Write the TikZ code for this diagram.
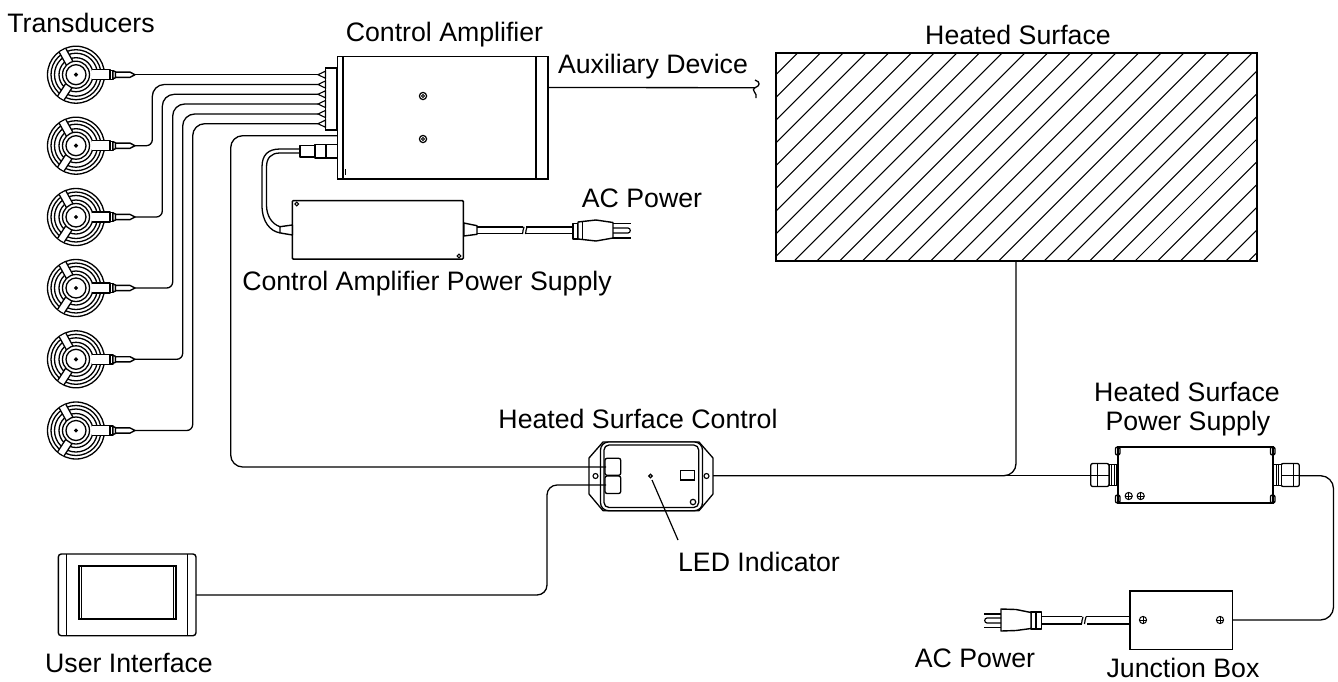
\documentclass[tikz,border=0pt]{standalone}
\usepackage{fontspec}
\setmainfont{Liberation Sans}
\usetikzlibrary{calc}
\tikzset{
  x=1pt,y=-1pt,
  lbl/.style={inner sep=0pt,font=\fontsize{26.7}{31}\selectfont,align=center},
  lblb/.style={lbl,anchor=base},
  wire/.style={line width=1.3pt,line join=round},
  part/.style={line width=1.4pt,draw=black,fill=white,line join=round},
  boxnode/.style={draw=black,fill=white,line width=1.7pt,rectangle,inner sep=0pt,outer sep=0pt},
  ring/.style={line width=1.3pt,draw=black},
  pics/transducer/.style={code={
    \draw[ring,fill=white] (0,0) circle (28.5);
    \draw[ring] (0,0) circle (25);
    \draw[ring] (0,0) circle (21.5);
    \draw[ring] (0,0) circle (17);
    \foreach \a in {123,-119}{
      \begin{scope}[rotate=-\a]
      \fill[white] (13,-3.8) rectangle (27.5,3.8);
      \draw[ring] (13,-3.8) -- (27.8,-3.8);
      \draw[ring] (13,3.8) -- (27.8,3.8);
      \end{scope}
    }
    \draw[ring,fill=white] (0,0) circle (13.5);
    \draw[ring] (0,0) circle (10);
    \draw[ring,fill=black] (0,0) circle (1.3);
    \draw[part] (16,-5) -- (34,-5) -- (34,5) -- (16,5);
    \draw[part] (34,-4.5) rectangle (37,4.5);
    \draw[part] (37,-4) -- (39.5,-3) -- (39.5,3) -- (37,4) -- cycle;
    \draw[part] (39.5,-2.6) -- (54,-2.6) -- (59,0) -- (54,2.6) -- (39.5,2.6) -- cycle;
  }},
  pics/screw/.style={code={
    \draw[line width=1pt,fill=white] (0,0) circle (3.6);
    \draw[line width=.8pt] (-3.2,0) -- (3.2,0) (0,-3.2) -- (0,3.2);
  }},
  pics/ampscrew/.style={code={
    \draw[line width=1.2pt,fill=white] (0,0) circle (3.6);
    \draw[line width=1pt] (0,0) circle (1.5);
  }},
  pics/cablebreak/.style={code={
    \draw[line width=1.2pt] (0,-3.6) .. controls (-2,-1.5) and (0,1.5) .. (-1.5,3.6);
  }},
}
\begin{document}
\begin{tikzpicture}
\useasboundingbox (0,0) rectangle (1338,681);

% ---- heated surface
\node[boxnode,minimum width=481.3pt,minimum height=208pt,anchor=north west] (hs) at (776,53) {};
\begin{scope}
  \clip (776,53) rectangle (1257.3,261);
  \foreach \k in {-1,...,30}{
    \draw[line width=1.05pt] ({850.7+\k*22.72-53},53) -- ({850.7+\k*22.72-261},261);
  }
\end{scope}
\draw[line width=1.7pt] (hs.north west) rectangle (hs.south east);

% ---- control amplifier
\node[boxnode,minimum width=210.5pt,minimum height=122.5pt,anchor=north west] (amp) at (337.5,56.5) {};
\draw[line width=1.7pt] (342.8,56.5) -- (342.8,179);
\draw[line width=1.7pt] (535.7,56.5) -- (535.7,179);
\draw[line width=.9pt] (345.5,169) -- (345.5,175);
\pic at (423,96) {ampscrew};
\pic at (423,139) {ampscrew};
\node[boxnode,line width=1.4pt,minimum width=11.5pt,minimum height=62pt,anchor=north west] (block) at (325.5,68) {};

% ---- pins
\foreach \n/\y in {1/74.7,2/84.5,3/94.3,4/104,5/114,6/123.7}{
  \coordinate (pin\n) at (318,\y);
  \draw[line width=1.1pt,fill=white] (pin\n) -- (325.5,{\y-3.6}) -- (325.5,{\y+3.6}) -- cycle;
}

% ---- transducers
\foreach \n/\y in {1/74.7,2/145.7,3/217,4/288,5/359.3,6/430.5}{
  \coordinate (t\n) at (76,\y);
  \pic at (t\n) {transducer};
  \coordinate (te\n) at (135,\y);
}
\coordinate (v2) at (152.3,84.5);
\coordinate (v3) at (162.3,94.3);
\coordinate (v4) at (172.7,104);
\coordinate (v5) at (182.7,114);
\coordinate (v6) at (192.7,123.7);
\draw[wire] (te1) -- (pin1);
\foreach \n in {2,...,6}{
  \draw[wire,rounded corners=6pt] (te\n) -- (te\n -| v\n) [rounded corners=12pt] -- (v\n) -- (pin\n);
}

% ---- heated surface control
\coordinate (hscL) at (606,467);
\coordinate (hscL2) at (606,485);
\draw[part,line width=1.3pt] (603,442) -- (589,458) -- (589,494) -- (603,510.7) -- (699,510.7) -- (713,494) -- (713,458) -- (699,442) -- cycle;
\draw[part,line width=1.3pt,rounded corners=8pt] (600.5,442) rectangle (702.5,510.7);
\draw[part,line width=1.3pt,rounded corners=5pt] (604,445) rectangle (698.7,507.5);
\node[draw,line width=1.1pt,circle,minimum size=5pt,inner sep=0pt] (hscs1) at (595.5,476) {};
\node[draw,line width=1.1pt,circle,minimum size=5pt,inner sep=0pt] (hscs2) at (706.5,476) {};
\draw[part,line width=1.3pt,rounded corners=2pt] (605,458.3) rectangle (620.7,475.3);
\draw[part,line width=1.3pt,rounded corners=2pt] (605,476) rectangle (620.7,493.5);
\node[draw,line width=1.2pt,circle,minimum size=3.4pt,inner sep=0pt] (led) at (650.5,476) {};
\draw[line width=1.2pt] (680.8,470.7) rectangle (694.7,480);
\draw[line width=1.2pt] (693,502) circle (2.7);
\coordinate (ledend) at (678,540);
\draw[line width=1.2pt] (led) ++(1.5,4) -- (ledend);

% ---- user interface
\node[boxnode,line width=1.4pt,rounded corners=3pt,minimum width=137.7pt,minimum height=81.7pt,anchor=north west] (ui) at (58.3,554) {};
\draw[line width=1.3pt] (66.7,554) -- (66.7,635.7) (187.3,554) -- (187.3,635.7);
\draw[line width=1.6pt] (79,565.7) rectangle (175.7,619);
\draw[line width=1pt] (81,565.7) -- (81,619) (173.9,565.7) -- (173.9,619);

% ---- wires to HSC
\coordinate (ampout) at (337,135.7);
\coordinate (c1) at (230.7,135.7);
\coordinate (c2) at (230.7,467);
\draw[wire,rounded corners=12pt] (ampout) -- (c1) -- (c2) -- (hscL);
\coordinate (d1) at (547,485);
\coordinate (d2) at (547,595);
\draw[wire,rounded corners=10pt] (hscL2) -- (d1) -- (d2) -- (ui.east |- d2);

% ---- aux
\coordinate (auxS) at (548,87.5);
\coordinate (auxE) at (755,87.7);
\draw[wire] (auxS) -- (auxE);
\draw[wire] (755,80) .. controls (761,82) and (760,86) .. (auxE) .. controls (750,90) and (758,93) .. (756,98);

% ---- amplifier power supply
\node[boxnode,line width=1.5pt,rounded corners=1pt,minimum width=171pt,minimum height=58.5pt,anchor=north west] (psu) at (292.3,200.5) {};
\draw[line width=1pt] (296.7,204) circle (1.9) (459,256) circle (1.9);
\draw[part] (292.3,225) -- (280,226.7) -- (280,232.9) -- (292.3,235) -- cycle;
\draw[line width=1.3pt] (300,149) -- (280,149) .. controls (268,149) and (262,155) .. (262,167) -- (262,205) .. controls (262,222) and (270,231) .. (280,232.9);
\draw[line width=1.3pt] (300,153) -- (280,153) .. controls (271,153) and (266.5,158) .. (266.5,167) -- (266.5,205) .. controls (266.5,216) and (272,224) .. (280,226.7);
\draw[part] (300,145.5) rectangle (315,157);
\draw[part] (315,144.5) -- (337.5,144.5) -- (337.5,158) -- (315,158) -- cycle;
\draw[line width=1.2pt] (326,144.5) -- (326,158);
\draw[part] (463.8,223) -- (477,225.7) -- (477,234.3) -- (463.8,236) -- cycle;
\draw[line width=1.2pt] (477,227) -- (522.5,227) (477,233.8) -- (522,233.8);
\draw[line width=1.2pt] (526,227) -- (573,227) (525.5,233.8) -- (573,233.8);
\pic at (524,230.4) {cablebreak};
\pic at (527,230.4) {cablebreak};
\draw[part] (573,223.5) rectangle (578,239);
\draw[part] (578,222) -- (596,220) -- (613,222.5) -- (613,238) -- (596,241) -- (578,239) -- cycle;
\draw[line width=1.2pt] (582.5,221.5) -- (582.5,240);
\draw[line width=1.2pt] (613,223.3) -- (631,223.3) (613,238) -- (631,238);
\draw[line width=1.2pt] (613,228) -- (628,228) .. controls (631,228) and (631,233) .. (628,233) -- (613,233);

% ---- heated surface power supply
\node[boxnode,minimum width=155pt,minimum height=56.3pt,anchor=north west] (hps) at (1117.7,446.7) {};
\foreach \x in {1117.7,1272.7}{
  \draw[line width=1.3pt,fill=white,rounded corners=2pt] ({\x-2.3},447) rectangle ({\x+2.3},455);
  \draw[line width=1.3pt,fill=white,rounded corners=2pt] ({\x-2.3},495) rectangle ({\x+2.3},503);
  \draw[line width=1.7pt] (\x,446.7) -- (\x,503);
}
\pic at (1128.7,496) {screw};
\pic at (1140.7,496) {screw};
% glands
\draw[part,line width=1.3pt,rounded corners=2pt] (1090.7,463.5) rectangle (1109,486.5);
\draw[line width=1pt] (1097,463.5) -- (1097,486.5) (1090.7,475) -- (1109,475);
\foreach \x in {1109,1111.5,1114}{\draw[line width=1pt,fill=white] (\x,464.5) rectangle ({\x+2.5},485.5);}
\draw[part,line width=1.3pt,rounded corners=2pt] (1281,463.5) rectangle (1299.3,486.5);
\draw[line width=1pt] (1293,463.5) -- (1293,486.5) (1281,475) -- (1299.3,475);
\foreach \x in {1273.5,1276,1278.5}{\draw[line width=1pt,fill=white] (\x,464.5) rectangle ({\x+2.5},485.5);}

% ---- junction box
\node[boxnode,line width=1.4pt,minimum width=102.7pt,minimum height=58.3pt,anchor=north west] (jb) at (1130,591) {};
\pic at (1143,620) {screw};
\pic at (1220,620) {screw};
\draw[line width=1.2pt] (1130,616.7) -- (1086,616.7) (1130,624) -- (1086.5,624);
\draw[line width=1.2pt] (1082,616.7) -- (1041.5,616.7) (1081.5,624) -- (1041.5,624);
\pic at (1086,620.4) {cablebreak};
\pic at (1083,620.4) {cablebreak};
\draw[part] (1031,612) rectangle (1041.5,629);
\draw[line width=1.2pt] (1036,612) -- (1036,629);
\draw[part] (1031,612.5) -- (1016,609.5) -- (1001,609) -- (1001,631) -- (1016,630.5) -- (1031,628.5) -- cycle;
\draw[line width=1.2pt] (1001,614) -- (984,614) (1001,627.5) -- (984,627.5);
\draw[line width=1.2pt] (1001,618) -- (987,618) .. controls (984,618) and (984,623) .. (987,623) -- (1001,623);

% ---- main power lines
\coordinate (hsb) at (1016,261);
\coordinate (hsj) at (1016,475.7);
\coordinate (hscR) at (713,475.7);
\coordinate (glL) at (1090.7,475.7);
\coordinate (glR) at (1299.3,475.7);
\coordinate (rc) at (1333.5,475.7);
\coordinate (rd) at (1333.5,620);
\coordinate (jbr) at (1232.7,620);
\draw[wire] (hscR) -- (glL);
\draw[wire,rounded corners=12pt] (hsb) -- (hsj) -- (hscR);
\draw[wire,rounded corners=13pt] (glR) -- (rc) -- (rd) -- (jbr);

% ---- labels
\node[lbl] (l1) at (81,23) {Transducers};
\node[lbl] (l2) at (444.5,35) {Control Amplifier};
\node[lbl] (l3) at (653,67) {Auxiliary Device};
\node[lbl] (l4) at (1018,35) {Heated Surface};
\node[lbl] (l5) at (642,198) {AC Power};
\node[lbl] (l6) at (427,284) {Control Amplifier Power Supply};
\node[lblb] (l7) at (638,428) {Heated Surface Control};
\node[lbl] (l8) at (759,562) {LED Indicator};
\node[lblb] (l9) at (1187,401) {Heated Surface};
\node[lblb] (l10) at (1188,430) {Power Supply};
\node[lbl] (l11) at (129,663) {User Interface};
\node[lblb] (l12) at (975,667) {AC Power};
\node[lblb] (l13) at (1183,677) {Junction Box};
\end{tikzpicture}
\end{document}
